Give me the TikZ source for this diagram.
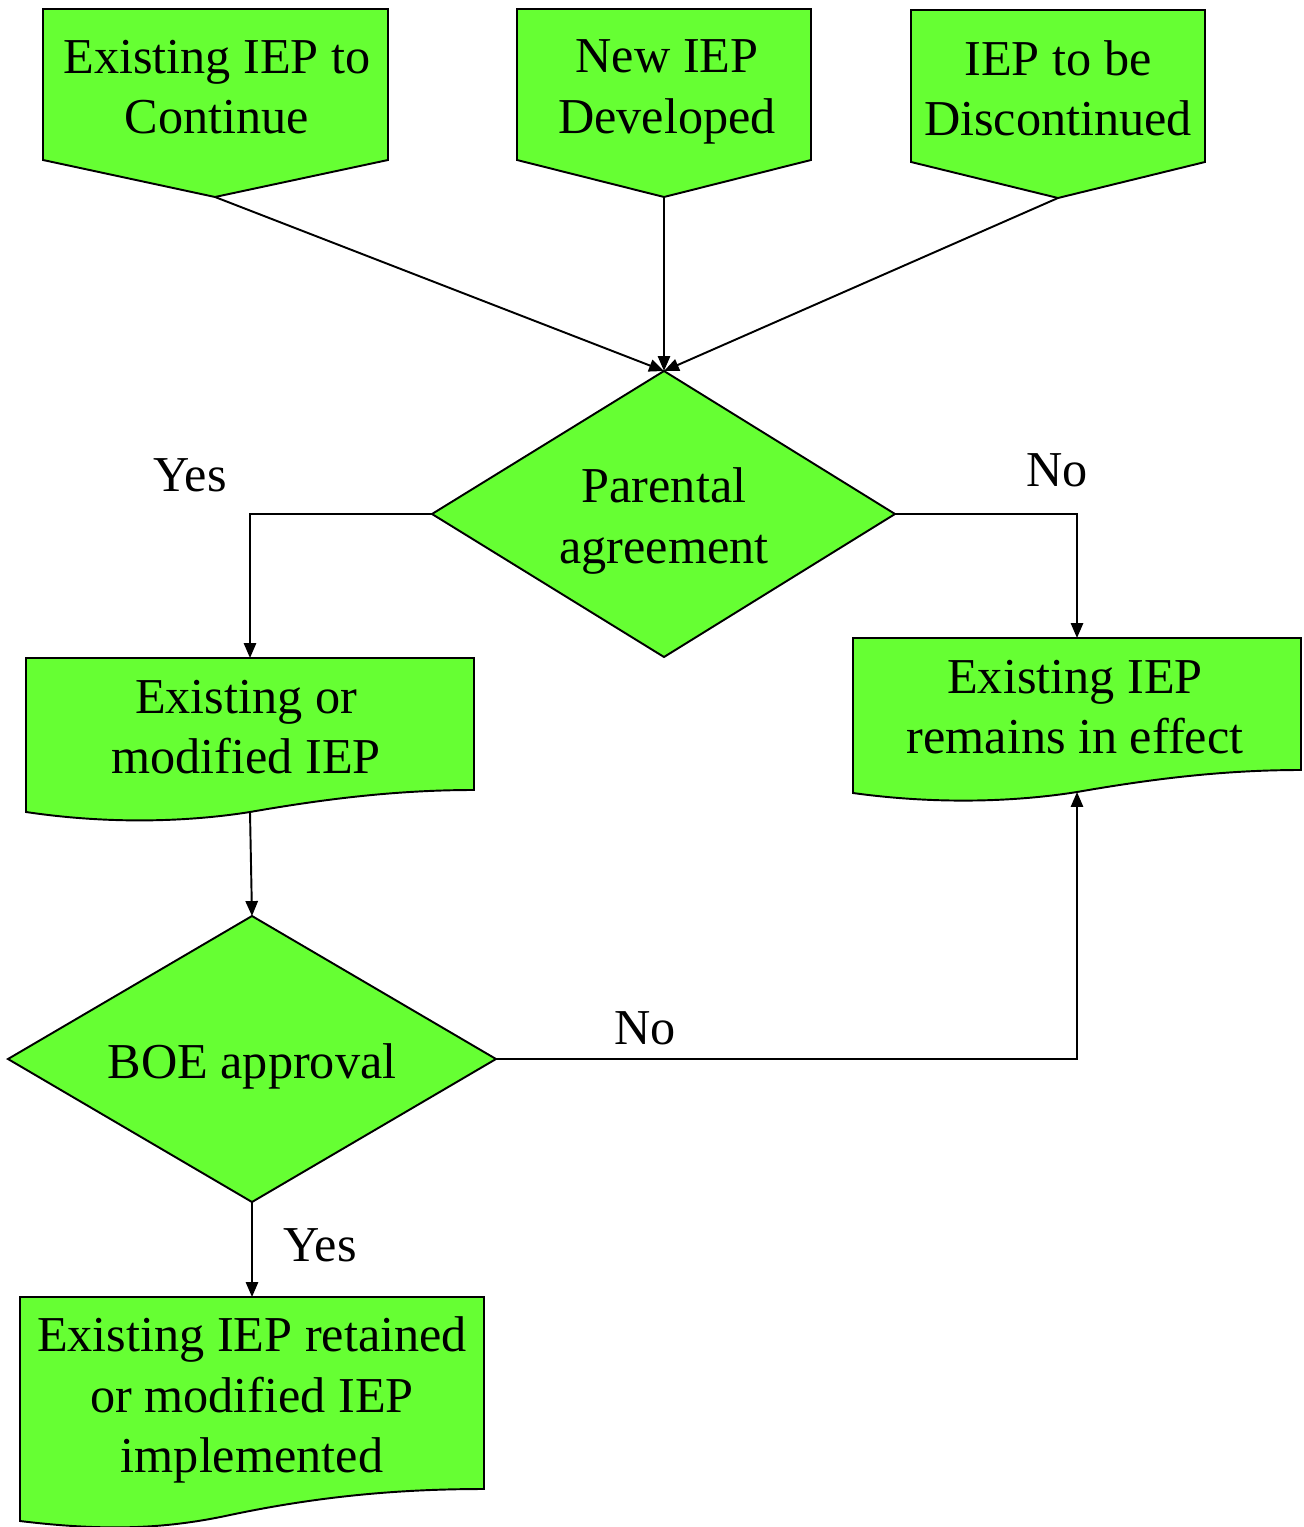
\documentclass[tikz,border=0pt]{standalone}
\usepackage{fontspec}
\setmainfont{Liberation Serif}
\usetikzlibrary{arrows.meta}
\definecolor{boxgreen}{RGB}{102,255,51}
\begin{document}
\begin{tikzpicture}[x=0.02cm,y=-0.02cm,
  shapebox/.style={draw=black,fill=boxgreen,line width=1.1pt,line join=miter},
  lbl/.style={font=\fontsize{28.6}{34.3}\selectfont,align=center,inner sep=0pt},
  conn/.style={line width=1.1pt,-{Triangle[length=8.5pt,width=7pt]}}]
\useasboundingbox (0,0) rectangle (1303,1527);

% top off-page boxes
\draw[shapebox] (43,9) -- (388,9) -- (388,160) -- (215,197) -- (43,160) -- cycle;
\draw[shapebox] (517,9) -- (811,9) -- (811,160) -- (664,197) -- (517,160) -- cycle;
\draw[shapebox] (911,10) -- (1205,10) -- (1205,162) -- (1058,198) -- (911,162) -- cycle;
\coordinate (p1) at (215,197);
\coordinate (p2) at (664,197);
\coordinate (p3) at (1058,198);
\node[lbl] (t1) at (217,87) {Existing IEP to\\Continue};
\node[lbl] (t2) at (667,92) {New IEP\\Developed};
\node[lbl] (t3) at (1058,88) {IEP to be\\Discontinued};

% diamond parental agreement
\draw[shapebox] (664,371) -- (895,514) -- (664,657) -- (432,514) -- cycle;
\coordinate (d1t) at (664,371);
\coordinate (d1l) at (432,514);
\coordinate (d1r) at (895,514);
\node[lbl] (td1) at (664,521) {Parental\\agreement};

% document existing or modified
\draw[shapebox] (26,658) -- (474,658) -- (474,790)
  .. controls (400,790) and (330,798) .. (250,812)
  .. controls (200,820) and (120,826) .. (26,812) -- cycle;
\coordinate (e1t) at (250,658);
\coordinate (e1b) at (250,812);
\node[lbl] (te1) at (246,727) {Existing or\\modified IEP};

% document remains in effect
\draw[shapebox] (853,638) -- (1301,638) -- (1301,770)
  .. controls (1227,770) and (1157,778) .. (1077,792)
  .. controls (1027,800) and (947,806) .. (853,793) -- cycle;
\coordinate (e2t) at (1077,638);
\coordinate (e2b) at (1077,792);
\node[lbl] (te2) at (1075,707) {Existing IEP\\remains in effect};

% diamond BOE approval
\draw[shapebox] (252,916) -- (496,1059) -- (252,1202) -- (8,1059) -- cycle;
\coordinate (d2t) at (252,916);
\coordinate (d2r) at (496,1059);
\coordinate (d2b) at (252,1202);
\node[lbl] (td2) at (252,1066) {BOE approval};

% document retained
\draw[shapebox] (20,1297) -- (484,1297) -- (484,1489)
  .. controls (400,1489) and (320,1496) .. (230,1515)
  .. controls (170,1528) and (110,1532) .. (20,1521) -- cycle;
\coordinate (e3t) at (252,1297);
\node[lbl] (te3) at (252,1400) {Existing IEP retained\\or modified IEP\\implemented};

% connectors
\draw[conn] (p1) -- (d1t);
\draw[conn] (p2) -- (d1t);
\draw[conn] (p3) -- (d1t);
\draw[conn] (d1l) -| (e1t);
\draw[conn] (d1r) -| (e2t);
\draw[conn] (e1b) -- (d2t);
\draw[conn] (d2r) -| (e2b);
\draw[conn] (d2b) -- (e3t);

% labels
\node[lbl] (yes1) at (190,475) {Yes};
\node[lbl] (no1) at (1057,470) {No};
\node[lbl] (no2) at (645,1028) {No};
\node[lbl] (yes2) at (320,1245) {Yes};
\end{tikzpicture}
\end{document}
